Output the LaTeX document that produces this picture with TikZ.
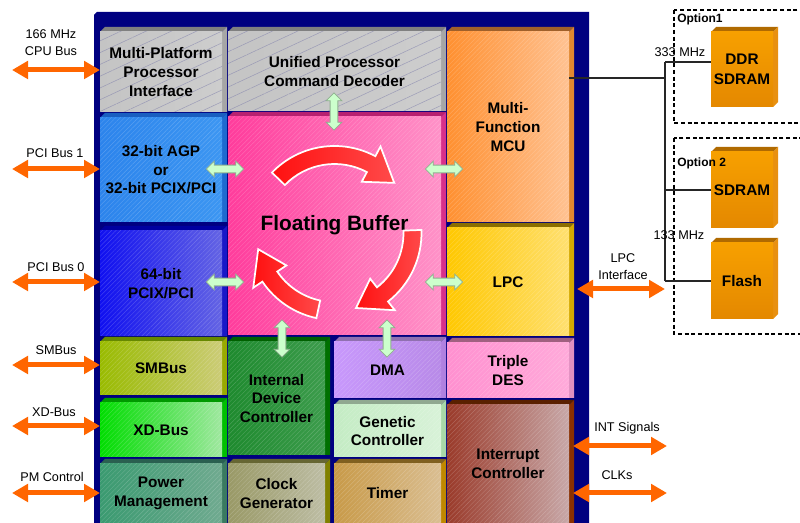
\documentclass[tikz,border=0pt]{standalone}
\usepackage{fontspec}
\setmainfont{Liberation Sans}
\usetikzlibrary{arrows.meta,shapes.arrows,calc,patterns.meta}

\definecolor{navy}{HTML}{000080}
\definecolor{arrorange}{HTML}{FF6600}
\definecolor{mint}{HTML}{CCFFCC}
\definecolor{mintline}{HTML}{8FB08F}
\definecolor{hatchgray}{HTML}{8A8AB0}
% gray
\definecolor{grayA}{HTML}{C4C4C4}\definecolor{grayB}{HTML}{CDCDCD}\definecolor{grayT}{HTML}{808080}\definecolor{grayS}{HTML}{A6A6A6}
\definecolor{agpA}{HTML}{2C84EC}\definecolor{agpB}{HTML}{3C96F2}\definecolor{agpT}{HTML}{1A5FC0}\definecolor{agpS}{HTML}{1E6AD0}
\definecolor{pciA}{HTML}{1010F0}\definecolor{pciB}{HTML}{6464E4}\definecolor{pciT}{HTML}{0000A0}\definecolor{pciS}{HTML}{1818C8}
\definecolor{fbA}{HTML}{FF3C9C}\definecolor{fbB}{HTML}{FF92C8}\definecolor{fbT}{HTML}{B82070}\definecolor{fbS}{HTML}{D8308A}
\definecolor{mcuA}{HTML}{FF9030}\definecolor{mcuB}{HTML}{FFC292}\definecolor{mcuT}{HTML}{A0602A}\definecolor{mcuS}{HTML}{E08830}
\definecolor{lpcA}{HTML}{FFC800}\definecolor{lpcB}{HTML}{FFE070}\definecolor{lpcT}{HTML}{8C6E00}\definecolor{lpcS}{HTML}{D4A800}
\definecolor{tdesA}{HTML}{FF90D0}\definecolor{tdesB}{HTML}{FFAADA}\definecolor{tdesT}{HTML}{A06080}\definecolor{tdesS}{HTML}{E090C0}
\definecolor{icA}{HTML}{9A3A2A}\definecolor{icB}{HTML}{C8A8A8}\definecolor{icT}{HTML}{5A2000}\definecolor{icS}{HTML}{8A3000}
\definecolor{smbA}{HTML}{99BB00}\definecolor{smbB}{HTML}{CCCC77}\definecolor{smbT}{HTML}{668800}\definecolor{smbS}{HTML}{99AA00}
\definecolor{xdA}{HTML}{00DD00}\definecolor{xdB}{HTML}{A0E8A0}\definecolor{xdT}{HTML}{009900}\definecolor{xdS}{HTML}{00C000}
\definecolor{pmA}{HTML}{3A9A70}\definecolor{pmB}{HTML}{70AA90}\definecolor{pmT}{HTML}{2A6050}\definecolor{pmS}{HTML}{3A7A60}
\definecolor{idcA}{HTML}{1E8A2E}\definecolor{idcB}{HTML}{3C9C4C}\definecolor{idcT}{HTML}{006000}\definecolor{idcS}{HTML}{007000}
\definecolor{dmaA}{HTML}{C898FC}\definecolor{dmaB}{HTML}{B88AE8}\definecolor{dmaT}{HTML}{9070B0}\definecolor{dmaS}{HTML}{B080E0}
\definecolor{gcA}{HTML}{C4ECC4}\definecolor{gcB}{HTML}{D8F2D8}\definecolor{gcT}{HTML}{90A890}\definecolor{gcS}{HTML}{A8D8A8}
\definecolor{cgA}{HTML}{999966}\definecolor{cgB}{HTML}{BDBDA4}\definecolor{cgT}{HTML}{666633}\definecolor{cgS}{HTML}{808000}
\definecolor{timA}{HTML}{C89A48}\definecolor{timB}{HTML}{DABE92}\definecolor{timT}{HTML}{806020}\definecolor{timS}{HTML}{C08800}
\definecolor{memA}{HTML}{F7A000}\definecolor{memB}{HTML}{E48800}\definecolor{memT}{HTML}{B06A00}\definecolor{memS}{HTML}{E89010}
\definecolor{redA}{HTML}{FF1010}\definecolor{redB}{HTML}{FF4A4A}

\tikzset{
  blockface/.style={draw=none, inner sep=0pt, outer sep=0pt, align=center, anchor=north west,
    font=\fontsize{11.5}{13.9}\selectfont\bfseries, text=black},
  hatchc/.style={pattern={Lines[angle=45,distance=2.4pt,line width=0.3pt]}, pattern color=white, opacity=0.2},
  hatchg/.style={pattern={Lines[angle=25,distance=8pt,line width=0.4pt]}, pattern color=hatchgray, opacity=0.7},
  gray top/.style={fill=grayT}, gray side/.style={fill=grayS}, gray face/.style={left color=grayA, right color=grayB}, gray hatch/.style={hatchg},
}
\newcommand\defblk[1]{%
  \tikzset{#1 top/.style={fill=#1T}, #1 side/.style={fill=#1S},
    #1 face/.style={left color=#1A, right color=#1B}, #1 hatch/.style={hatchc}}}
\defblk{agp}\defblk{pci}\defblk{fb}\defblk{mcu}\defblk{lpc}\defblk{tdes}\defblk{ic}
\defblk{smb}\defblk{xd}\defblk{pm}\defblk{idc}\defblk{dma}\defblk{gc}\defblk{cg}\defblk{tim}\defblk{mem}

\tikzset{
  oarrow/.style={draw=arrorange, line width=3.75pt,
    {Triangle[length=12pt,width=13pt]}-{Triangle[length=12pt,width=13pt]}},
  garrow/.style={double arrow, draw=mintline, fill=mint, line width=0.6pt, inner xsep=0pt, inner ysep=2.6pt, outer sep=0pt,
    minimum height=28pt, minimum width=11.25pt, double arrow head extend=3pt},
  gvert/.style={garrow, shape border rotate=90, inner xsep=2.6pt, inner ysep=0pt},
  buslabel/.style={font=\fontsize{9.5}{12.8}\selectfont, align=center, inner sep=0pt},
  optlabel/.style={font=\fontsize{9}{11}\selectfont\bfseries, inner sep=0pt, anchor=west},
  wire/.style={draw=black!85, line width=0.8pt},
  optbox/.style={draw=black, line width=0.8pt, dash pattern=on 3pt off 2pt},
  memface/.style={blockface, font=\fontsize{11.5}{15}\selectfont\bfseries},
  redarr/.style={left color=redA, right color=redB, draw=white, line width=1.3pt},
}

% \blk{name}{x1}{y1}{x2}{y2}{prefix}{text}
\newcommand\blk[7]{%
  \fill[#6 top] (#2,#3+5) -- (#2+5,#3) -- (#4,#3) -- (#4-5,#3+5) -- cycle;
  \fill[#6 side] (#4-5,#3+5) -- (#4,#3) -- (#4,#5) -- (#4-5,#5) -- cycle;
  \shade[#6 face] (#2,#3+5) rectangle (#4-5,#5);
  \fill[#6 hatch] (#2,#3+5) rectangle (#4-5,#5);
  \node[blockface, minimum width={(#4-5-#2)*0.75pt}, minimum height={(#5-#3-5)*0.75pt}] (#1) at (#2,#3+5) {#7};
}
\newcommand\memblk[6]{%
  \fill[mem top] (#2,#3+5) -- (#2+5,#3) -- (#4,#3) -- (#4-5,#3+5) -- cycle;
  \fill[mem side] (#4-5,#3+5) -- (#4,#3) -- (#4,#5-5) -- (#4-5,#5) -- cycle;
  \shade[top color=memA, bottom color=memB] (#2,#3+5) rectangle (#4-5,#5);
  \node[memface, minimum width={(#4-5-#2)*0.75pt}, minimum height={(#5-#3-5)*0.75pt}] (#1) at (#2,#3+5) {#6};
}
% \redarrow{start}{headstart}{tip}
\newcommand\redarrow[3]{%
  \shadedraw[redarr] (#1:87) arc[start angle=#1, end angle=#2, radius=87] -- (#2:98) -- (#3:78)
    -- (#2:58) -- (#2:69) arc[start angle=#2, end angle=#1, radius=69] -- cycle;
}

\begin{document}
\begin{tikzpicture}[x=0.75pt,y=-0.75pt]
\clip (0,0) rectangle (800,523);
\fill[white] (0,0) rectangle (800,523);

% chip body
\fill[navy] (94,15) -- (97,12) -- (589,12) -- (589,523) -- (94,523) -- cycle;

% blocks
\blk{mpi}{100}{27}{227}{112}{gray}{Multi-Platform\\Processor\\Interface}
\blk{upcd}{228}{27}{446}{111}{gray}{Unified Processor\\Command Decoder}
\blk{mcu}{447}{27}{574}{222}{mcu}{Multi-\\Function\\MCU}
\blk{agp}{100}{113}{227}{222}{agp}{32-bit AGP\\or\\32-bit PCIX/PCI}
\blk{fb}{228}{112}{446}{335}{fb}{}
\blk{pci}{100}{226}{227}{336}{pci}{64-bit\\PCIX/PCI}
\blk{lpc}{447}{223}{574}{336}{lpc}{LPC}
\blk{smb}{100}{337}{227}{395}{smb}{SMBus}
\blk{xd}{100}{398}{227}{457}{xd}{XD-Bus}
\blk{pm}{100}{459}{227}{523}{pm}{Power\\Management}
\blk{idc}{228}{337}{330}{455}{idc}{Internal\\Device\\Controller}
\blk{dma}{334}{337}{446}{398}{dma}{DMA}
\blk{gc}{334}{400}{446}{457}{gc}{Genetic\\Controller}
\blk{cg}{228}{459}{330}{523}{cg}{Clock\\Generator}
\blk{tim}{334}{459}{446}{523}{tim}{Timer}
\blk{tdes}{447}{338}{574}{398}{tdes}{Triple\\DES}
\blk{ic}{447}{400}{574}{523}{ic}{Interrupt\\Controller}

% floating buffer title
\node[font=\fontsize{15.6}{18}\selectfont\bfseries, inner sep=0pt] (fbl) at (334.5,225) {Floating Buffer};

% red circulating arrows
\begin{scope}[shift={(334.5,233)}]
  \redarrow{-136}{-62}{-40}
  \redarrow{-2}{52}{74}
  \redarrow{102}{146}{168}
\end{scope}

% green internal arrows
\node[gvert] (gup) at (334,111.5) {};
\node[garrow] (gl1) at (225,169) {};
\node[garrow] (gr1) at (444,169) {};
\node[garrow] (gl2) at (225,282) {};
\node[garrow] (gr2) at (444,282) {};
\node[gvert] (gidc) at (282,338.5) {};
\node[gvert] (gdma) at (387,338.5) {};

% left buses
\coordinate (cpuL) at (12,70);
\coordinate (pci1L) at (12,169);
\coordinate (pci0L) at (12,282);
\coordinate (smbL) at (12,365);
\coordinate (xdL) at (12,426);
\coordinate (pmL) at (12,493);
\draw[oarrow] (cpuL) -- (cpuL -| mpi.west);
\draw[oarrow] (pci1L) -- (pci1L -| agp.west);
\draw[oarrow] (pci0L) -- (pci0L -| pci.west);
\draw[oarrow] (smbL) -- (smbL -| smb.west);
\draw[oarrow] (xdL) -- (xdL -| xd.west);
\draw[oarrow] (pmL) -- (pmL -| pm.west);
\node[buslabel] (cpuT) at (51,43) {166 MHz\\CPU Bus};
\node[buslabel] (pci1T) at (55,153) {PCI Bus 1};
\node[buslabel] (pci0T) at (56,267) {PCI Bus 0};
\node[buslabel] (smbT) at (56,350) {SMBus};
\node[buslabel] (xdT) at (54,412) {XD-Bus};
\node[buslabel] (pmT) at (52,477) {PM Control};

% right buses
\coordinate (lpcR) at (665,289);
\coordinate (intR) at (667,446);
\coordinate (clkR) at (667,493);
\draw[oarrow] ($(lpc.east |- lpcR)+(8,0)$) -- (lpcR);
\draw[oarrow] ($(ic.east |- intR)+(4,0)$) -- (intR);
\draw[oarrow] ($(ic.east |- clkR)+(4,0)$) -- (clkR);
\node[buslabel] (lpcT) at (623,267) {LPC\\Interface};
\node[buslabel] (intT) at (627,428) {INT Signals};
\node[buslabel] (clkT) at (617,475) {CLKs};

% memory options
\draw[optbox] (674,10) rectangle (806,123);
\draw[optbox] (674,138) rectangle (806,334);
\memblk{ddr}{711}{27}{778}{107}{DDR\\SDRAM}
\memblk{sdram}{711}{147}{778}{228}{SDRAM}
\memblk{flash}{711}{238}{778}{319}{Flash}
\node[optlabel] (opt1) at (677,19) {Option1};
\node[optlabel] (opt2) at (677,163) {Option 2};

\coordinate (busMid) at (665,78);
\coordinate (busTop) at (665,62);
\coordinate (busBot) at (flash.west -| busTop);
\draw[wire] (mcu.east |- busMid) -- (busMid);
\draw[wire] (busTop) -- (busBot);
\draw[wire] (busTop) -- (ddr.west |- busTop);
\draw[wire] (sdram.west -| busTop) -- (sdram.west);
\draw[wire] (busBot) -- (flash.west);
\node[buslabel] (f333) at (680,52) {333 MHz};
\node[buslabel] (f133) at (679,235) {133 MHz};
\end{tikzpicture}
\end{document}
